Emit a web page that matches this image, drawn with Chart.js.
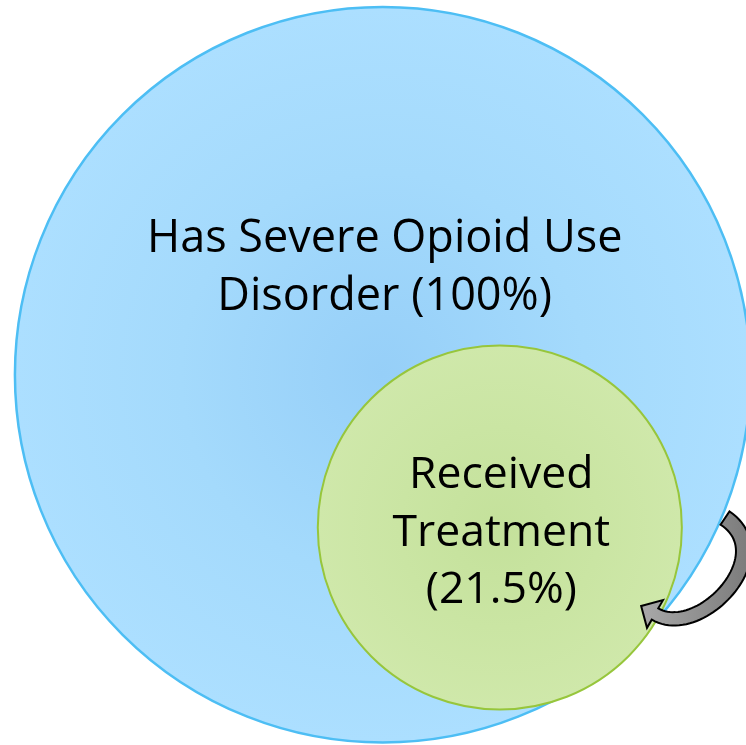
<!DOCTYPE html>
<html><head><meta charset="utf-8">
<script src="https://cdn.jsdelivr.net/npm/chart.js@4"></script>
<style>html,body{margin:0;padding:0;background:#fff;overflow:hidden}#wrap{width:746px;height:745px;position:relative}</style>
</head><body><div id="wrap"><canvas id="c" width="746" height="745"></canvas></div>
<script>
// ---- data ----
const categories = ['Has Severe Opioid Use Disorder', 'Received Treatment'];
const percentages = [100, 21.5];
const centerX = [51.3, 67.0];      // circle centres, chart units (0-100)
const centerY = [50.3, 70.8];
const radiusUnits = [49.3, 24.4];  // circle radii, x-axis units
const labelLines = [['Has Severe Opioid Use', 'Disorder (100%)'], ['Received', 'Treatment', '(21.5%)']];

// ---- styles ----
const gradStops = [
  ['#96cff8', '#a4dafc', '#acdfff'],
  ['#c4e19b', '#cae5a3', '#cfe8aa']
];
const borderColors = ['#4dbef4', '#97c63c'];
const borderWidths = [2.5, 2];
const labelFont = ['45px "Open Sans"', '44.5px "Open Sans"'];
const labelDx = [2, 1.5];
const labelBaselines = [[-123, -65], [-39.5, 18.5, 75.5]];

function pxRadius(chart, i) {
  const s = chart.scales && chart.scales.x;
  if (!s) return 1;
  const v = s.getPixelForValue(radiusUnits[i]) - s.getPixelForValue(0);
  return isFinite(v) && v > 0 ? v : 1;
}

const labelPlugin = {
  id: 'labels',
  afterDatasetsDraw(chart) {
    const ctx = chart.ctx;
    const meta = chart.getDatasetMeta(0);
    ctx.save();
    ctx.fillStyle = '#000';
    ctx.textAlign = 'center';
    ctx.textBaseline = 'alphabetic';
    meta.data.forEach((el, i) => {
      ctx.font = labelFont[i];
      labelLines[i].forEach((t, j) => {
        ctx.fillText(t, el.x + labelDx[i], el.y + labelBaselines[i][j]);
      });
    });
    ctx.restore();
  }
};

const arrowPlugin = {
  id: 'arrow',
  afterDraw(chart) {
    const ctx = chart.ctx;
    const P = [[725, 518], [780, 555], [700, 640], [655, 614]];
    const N = 50;
    const pts = [];
    for (let k = 0; k <= N; k++) {
      const t = k / N, u = 1 - t;
      const b = [u*u*u, 3*u*u*t, 3*u*t*t, t*t*t];
      const d = [-3*u*u, 3*u*u - 6*u*t, 6*u*t - 3*t*t, 3*t*t];
      let x = 0, y = 0, dx = 0, dy = 0;
      for (let m = 0; m < 4; m++) { x += b[m]*P[m][0]; y += b[m]*P[m][1]; dx += d[m]*P[m][0]; dy += d[m]*P[m][1]; }
      const L = Math.hypot(dx, dy);
      pts.push([x, y, dx / L, dy / L]);
    }
    const hw = t => 8 - 1.5 * t;
    ctx.save();
    ctx.beginPath();
    pts.forEach((p, k) => {
      const w = hw(k / N);
      const x = p[0] - p[3] * w, y = p[1] + p[2] * w;
      if (k === 0) ctx.moveTo(x, y); else ctx.lineTo(x, y);
    });
    const e = pts[N];
    const nx = -e[3], ny = e[2];
    ctx.lineTo(e[0] + nx * 16, e[1] + ny * 16);
    ctx.lineTo(e[0] + e[2] * 16, e[1] + e[3] * 16);
    ctx.lineTo(e[0] - nx * 16, e[1] - ny * 16);
    for (let k = N; k >= 0; k--) {
      const p = pts[k], w = hw(k / N);
      ctx.lineTo(p[0] + p[3] * w, p[1] - p[2] * w);
    }
    ctx.closePath();
    const g = ctx.createLinearGradient(640, 600, 745, 600);
    g.addColorStop(0, '#a9a9a9');
    g.addColorStop(1, '#7d7d7d');
    ctx.fillStyle = g;
    ctx.fill();
    ctx.lineWidth = 2;
    ctx.lineJoin = 'miter';
    ctx.strokeStyle = '#000';
    ctx.stroke();
    ctx.restore();
  }
};

new Chart(document.getElementById('c'), {
  type: 'scatter',
  data: {
    datasets: [{
      label: categories.join(' / '),
      data: centerX.map((x, i) => ({ x: x, y: centerY[i], pct: percentages[i] })),
      pointRadius: c => pxRadius(c.chart, c.dataIndex),
      pointHoverRadius: c => pxRadius(c.chart, c.dataIndex),
      pointBackgroundColor: c => {
        const i = c.dataIndex, ch = c.chart;
        if (i === undefined || !ch.scales || !ch.scales.x || !ch.scales.y) return '#a4dafc';
        const x = ch.scales.x.getPixelForValue(centerX[i]);
        const y = ch.scales.y.getPixelForValue(centerY[i]);
        const r = pxRadius(ch, i);
        if (!isFinite(x) || !isFinite(y) || !isFinite(r)) return gradStops[i][1];
        const g = ch.ctx.createRadialGradient(x, y, 0, x, y, Math.max(r, 1));
        g.addColorStop(0, gradStops[i][0]);
        g.addColorStop(0.55, gradStops[i][1]);
        g.addColorStop(1, gradStops[i][2]);
        return g;
      },
      pointBorderColor: borderColors,
      pointBorderWidth: borderWidths,
      showLine: false,
      clip: false
    }]
  },
  options: {
    responsive: false,
    animation: false,
    events: [],
    layout: { padding: 0, autoPadding: false },
    plugins: { legend: { display: false }, tooltip: { enabled: false } },
    scales: {
      x: { type: 'linear', min: 0, max: 100, display: false },
      y: { type: 'linear', min: 0, max: 100, reverse: true, display: false }
    }
  },
  plugins: [labelPlugin, arrowPlugin]
});
</script>
</body></html>
